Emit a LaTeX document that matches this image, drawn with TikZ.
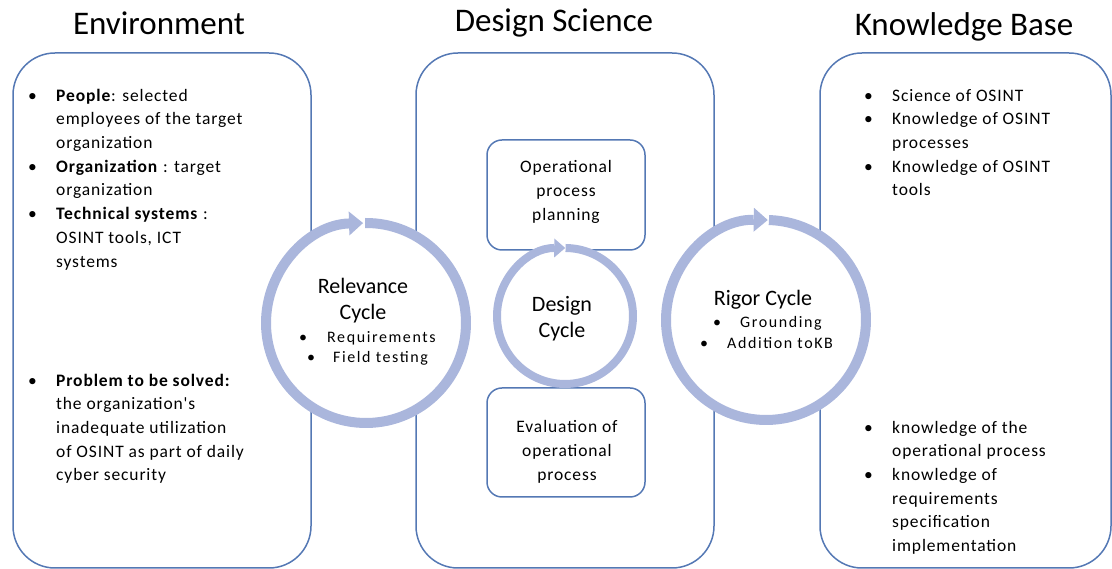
\documentclass[tikz,border=0pt]{standalone}
\usepackage{fontspec}
\setmainfont{Carlito}
\newfontfamily\spacedFont[LetterSpace=5]{Carlito}
\newfontfamily\wideFont[LetterSpace=10]{Carlito}
\usetikzlibrary{arrows.meta}
\definecolor{boxBlue}{RGB}{84,120,180}
\definecolor{ringBlue}{RGB}{170,182,220}

\begin{document}
\begin{tikzpicture}[x=1pt, y=1pt,
  boxStyle/.style={draw=boxBlue, line width=1.5pt, rounded corners=42pt},
  innerStyle/.style={draw=boxBlue, line width=1.5pt, rounded corners=15pt},
  ringStyle/.style={draw=ringBlue, line width=10pt, -{Triangle[length=14pt, width=24pt, line width=0pt]}},
  headStyle/.style={font=\fontsize{33}{36}\selectfont, anchor=base},
  listStyle/.style={font=\spacedFont\fontsize{17.5}{23.7}\selectfont, anchor=north west, inner sep=0pt},
  boxText/.style={font=\spacedFont\fontsize{17.5}{24}\selectfont, align=center},
  cycleStyle/.style={font=\fontsize{22}{26}\selectfont, align=center},
  cycleItem/.style={font=\wideFont\fontsize{16}{20}\selectfont, anchor=base west, inner sep=0pt}
]
\useasboundingbox (0,0) rectangle (1112,569);

% the three columns
\draw [boxStyle] (13,  1) rectangle (311,  516);
\draw [boxStyle] (416, 1) rectangle (714,  516);
\draw [boxStyle] (820, 1) rectangle (1111, 516);

\node [headStyle] (envTitle) at (159, 534) {Environment};
\node [headStyle] (dsTitle)  at (554, 537) {Design Science};
\node [headStyle] (kbTitle)  at (964, 533) {Knowledge Base};

% design science: the two activities
\draw [innerStyle] (487, 319) rectangle (645, 429);
\draw [innerStyle] (487, 72)  rectangle (645, 181);
\node [boxText] (planText) at (566, 377) {Operational\\process\\planning};
\node [boxText] (evalText) at (567, 117) {Evaluation of\\operational\\process};

% the three cycles
\coordinate (relCentre) at (366, 246);
\coordinate (desCentre) at (565, 253);
\coordinate (rigCentre) at (766, 249);

\fill [white] (relCentre) circle (100);
\fill [white] (desCentre) circle (68);
\fill [white] (rigCentre) circle (100);

\draw [ringStyle] (relCentre) ++(90.5:100) arc (90.5:-268.3:100);
\draw [ringStyle, line width=8pt, -{Triangle[length=11pt, width=19pt, line width=0pt]}] (desCentre) ++(89.5:68) arc (89.5:-270.2:68);
\draw [ringStyle] (rigCentre) ++(88.3:100) arc (88.3:-271:100);

\node [cycleStyle] (relLabel) at (363, 268) {Relevance\\Cycle};
\node [cycleItem]  (relReq)   at (299, 226) {\makebox[28pt][l]{•}Requirements};
\node [cycleItem]  (relField) at (307, 206) {\makebox[26pt][l]{•}Field testing};

\node [cycleStyle] (desLabel) at (562, 250) {Design\\Cycle};

\node [cycleStyle, anchor=base] (rigLabel) at (763, 263) {Rigor Cycle};
\node [cycleItem]  (rigGround) at (713, 241) {\makebox[27pt][l]{•}Grounding};
\node [cycleItem]  (rigAdd)    at (700, 220) {\makebox[27pt][l]{•}Addition toKB};

% environment
\node [listStyle] (envActors) at (28, 484.6) {%
  \begin{tabular}{@{}p{28pt}@{}l@{}}
  • & \textbf{People}: selected\\
    & employees of the target\\
    & organization\\
  • & \textbf{Organization} : target\\
    & organization\\
  • & \textbf{Technical systems} :\\
    & OSINT tools, ICT\\
    & systems
  \end{tabular}};
\node [listStyle] (envProblem) at (28, 199.6) {%
  \begin{tabular}{@{}p{28pt}@{}l@{}}
  • & \textbf{Problem to be solved:}\\
    & the organization's\\
    & inadequate utilization\\
    & of OSINT as part of daily\\
    & cyber security
  \end{tabular}};

% knowledge base
\node [listStyle] (kbOsint) at (864, 484.6) {%
  \begin{tabular}{@{}p{28pt}@{}l@{}}
  • & Science of OSINT\\
  • & Knowledge of OSINT\\
    & processes\\
  • & Knowledge of OSINT\\
    & tools
  \end{tabular}};
\node [listStyle] (kbProcess) at (864, 152.6) {%
  \begin{tabular}{@{}p{28pt}@{}l@{}}
  • & knowledge of the\\
    & operational process\\
  • & knowledge of\\
    & requirements\\
    & specification\\
    & implementation
  \end{tabular}};
\end{tikzpicture}
\end{document}
